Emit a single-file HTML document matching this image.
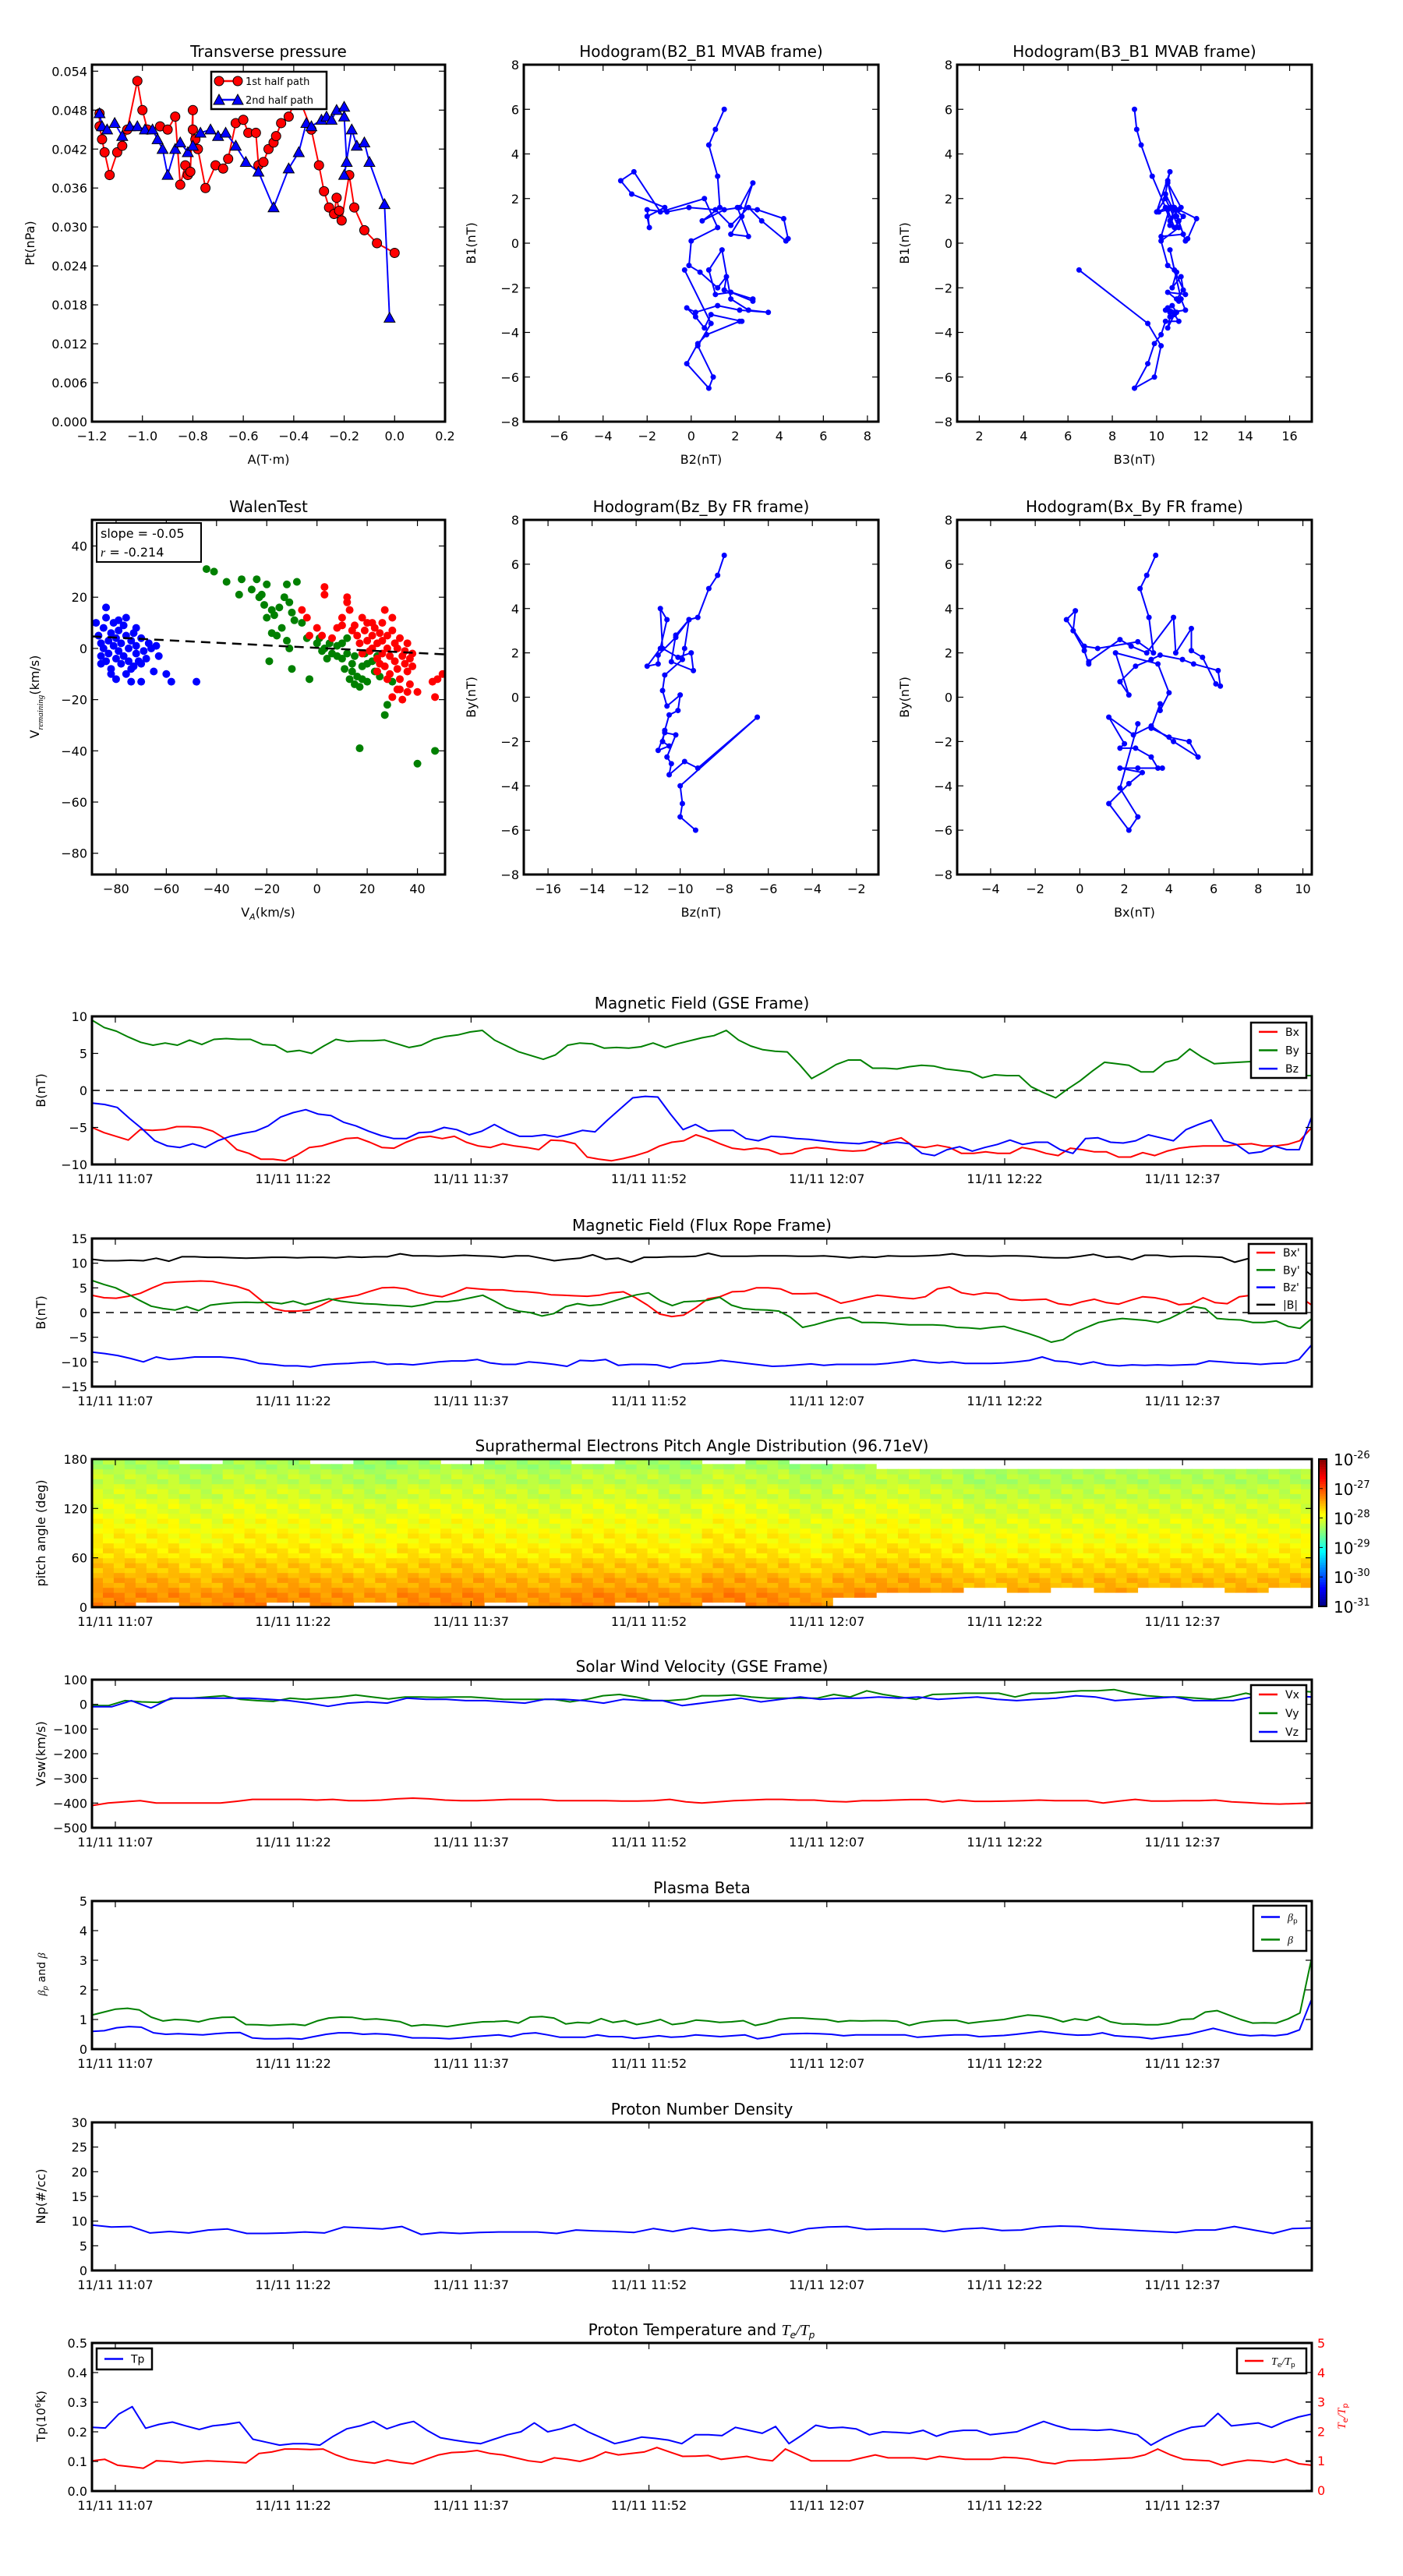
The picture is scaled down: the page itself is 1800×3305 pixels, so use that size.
<!DOCTYPE html>
<html><head><meta charset="utf-8"><title>Flux rope analysis</title>
<style>
html,body{margin:0;padding:0;background:#fff;}
svg text{font-family:"DejaVu Sans","Liberation Sans",sans-serif;}
</style></head>
<body>
<svg id="fig" xmlns="http://www.w3.org/2000/svg" width="1800" height="3300" viewBox="0 0 1800 3300">
<rect width="1800" height="3300" fill="#fff"/>
</svg>
<script>
// ---------- DATA ----------
const ptRedX=[-1.17,-1.17,-1.16,-1.15,-1.13,-1.1,-1.08,-1.06,-1.02,-1.0,-0.98,-0.93,-0.9,-0.87,-0.85,-0.83,-0.82,-0.81,-0.8,-0.8,-0.79,-0.78,-0.75,-0.71,-0.68,-0.66,-0.63,-0.6,-0.58,-0.55,-0.54,-0.52,-0.5,-0.48,-0.47,-0.45,-0.42,-0.4,-0.38,-0.33,-0.3,-0.28,-0.26,-0.24,-0.23,-0.22,-0.21,-0.18,-0.16,-0.12,-0.07,0.0];
const ptRedY=[0.0475,0.0455,0.0435,0.0415,0.038,0.0415,0.0425,0.045,0.0525,0.048,0.045,0.0455,0.045,0.047,0.0365,0.0395,0.038,0.0385,0.048,0.045,0.0435,0.042,0.036,0.0395,0.039,0.0405,0.046,0.0465,0.0445,0.0445,0.0395,0.040,0.042,0.043,0.044,0.046,0.047,0.049,0.05,0.045,0.0395,0.0355,0.033,0.032,0.0345,0.0325,0.031,0.038,0.033,0.0295,0.0275,0.026];
const ptBlueX=[-1.17,-1.16,-1.14,-1.11,-1.08,-1.05,-1.02,-0.99,-0.96,-0.94,-0.92,-0.9,-0.87,-0.85,-0.82,-0.8,-0.77,-0.73,-0.7,-0.67,-0.63,-0.59,-0.54,-0.48,-0.42,-0.38,-0.35,-0.33,-0.29,-0.27,-0.25,-0.23,-0.2,-0.2,-0.19,-0.2,-0.17,-0.15,-0.12,-0.1,-0.04,-0.02];
const ptBlueY=[0.0475,0.0455,0.045,0.046,0.044,0.0455,0.0455,0.045,0.045,0.0435,0.042,0.038,0.042,0.043,0.0415,0.0425,0.0445,0.045,0.044,0.0445,0.0425,0.040,0.0385,0.033,0.039,0.0415,0.046,0.0455,0.0465,0.047,0.0465,0.048,0.0485,0.047,0.040,0.038,0.045,0.0425,0.043,0.040,0.0335,0.016];

const h1X=[1.5,1.1,0.8,1.2,1.3,0.5,1.5,2.2,2.8,2.3,1.8,2.6,2.1,3.0,4.2,4.4,4.3,3.2,2.6,1.8,1.1,-0.1,-1.1,-2.0,-1.9,-2.0,-1.2,-2.7,-3.2,-2.6,-1.4,0.6,1.2,0.0,-0.1,0.4,1.2,1.6,1.5,2.8,2.8,1.8,1.1,0.8,1.4,1.8,2.6,3.5,2.2,1.2,0.2,-0.2,0.2,0.6,0.9,2.3,2.2,0.7,0.3,-0.2,0.8,1.0,0.3,0.9,-0.3];
const h1Y=[6.0,5.1,4.4,3.0,1.6,1.0,1.5,1.6,2.7,1.2,0.4,0.3,1.6,1.5,1.1,0.2,0.1,1.0,1.6,0.8,1.5,1.6,1.4,1.5,0.7,1.2,1.6,2.2,2.8,3.2,1.4,2.0,0.7,0.1,-1.0,-1.3,-2.0,-1.5,-2.1,-2.5,-2.6,-2.2,-2.3,-1.2,-0.3,-2.5,-3.0,-3.1,-3.0,-2.8,-3.1,-2.9,-3.3,-3.8,-3.2,-3.5,-3.5,-4.1,-4.5,-5.4,-6.5,-6.0,-4.6,-3.6,-1.2];
const h2X=[9.0,9.1,9.3,9.8,10.4,10.6,10.8,11.1,10.5,10.9,11.2,10.2,10.6,11.0,11.8,11.4,11.3,11.0,10.8,10.6,10.9,10.4,10.1,10.5,10.8,11.2,10.7,10.4,10.5,10.6,10.0,10.4,11.0,10.2,10.5,10.9,10.7,11.1,11.2,10.9,11.0,10.5,11.3,10.8,10.6,11.1,11.3,10.6,10.4,10.7,10.9,10.5,10.6,10.5,10.8,11.0,10.4,10.2,9.9,9.6,9.0,9.9,10.2,9.6,6.5];
const h3X=[-8.0,-8.3,-8.7,-9.2,-9.6,-10.2,-10.4,-9.4,-9.5,-10.1,-10.8,-10.9,-10.6,-10.9,-11.5,-11.0,-11.0,-10.2,-9.6,-9.8,-9.9,-10.7,-10.8,-10.6,-10.0,-10.1,-10.5,-10.7,-10.8,-10.5,-11.0,-10.7,-10.2,-10.6,-10.4,-10.5,-9.8,-9.2,-6.5,-10.0,-9.9,-10.0,-9.3];
const h3Y=[6.4,5.5,4.9,3.6,3.5,2.8,1.6,1.2,2.0,1.8,2.2,4.0,3.5,2.2,1.4,1.5,1.9,2.7,3.5,2.2,1.7,1.0,0.3,-0.4,0.1,-0.6,-0.8,-1.5,-2.0,-2.2,-2.4,-1.6,-1.7,-2.7,-3.0,-3.5,-2.9,-3.2,-0.9,-4.0,-4.8,-5.4,-6.0];
const h4X=[3.4,3.0,2.7,3.1,3.3,2.6,0.8,0.2,-0.6,-0.2,-0.3,0.2,0.4,0.4,1.8,2.3,3.0,4.2,4.3,5.0,5.0,5.5,6.1,6.3,6.2,5.1,4.6,3.6,3.2,2.5,1.8,2.2,1.6,3.5,4.0,3.6,3.6,3.2,4.0,4.9,5.3,4.2,3.2,2.4,1.3,2.0,1.8,2.5,3.2,3.5,3.7,2.6,1.8,2.8,2.2,1.3,2.2,2.6,1.8,2.6];
const h4Y=[6.4,5.5,4.9,3.6,2.0,2.5,2.2,2.3,3.5,3.9,3.0,2.1,1.5,1.6,2.6,2.3,2.0,3.6,2.0,3.1,2.1,1.8,0.6,0.5,1.2,1.5,1.7,1.9,1.7,1.4,0.7,0.1,2.0,1.5,0.2,-0.6,-0.3,-1.4,-1.8,-2.0,-2.7,-2.0,-1.3,-1.7,-0.9,-2.1,-2.3,-2.3,-2.7,-3.2,-3.2,-3.2,-3.2,-3.4,-3.9,-4.8,-6.0,-5.4,-4.1,-1.2];

const walenBlue=[[-88,10],[-87,5],[-86,2],[-86,-3],[-85,8],[-85,0],[-84,-5],[-84,12],[-83,3],[-83,-2],[-82,6],[-82,-8],[-81,1],[-81,10],[-80,-4],[-80,4],[-79,7],[-79,-1],[-78,-6],[-78,2],[-77,9],[-77,-3],[-76,5],[-76,-10],[-75,0],[-75,-5],[-74,3],[-74,-13],[-73,-7],[-73,6],[-72,1],[-72,-2],[-71,-5],[-70,-13],[-70,4],[-69,-1],[-68,-4],[-67,2],[-66,0],[-65,-9],[-64,1],[-63,-3],[-60,-10],[-58,-13],[-48,-13],[-84,16],[-82,-10],[-80,-12],[-76,12],[-74,-8],[-79,11],[-86,-6],[-72,8],[-70,-6]];
const walenGreen=[[-44,31],[-41,30],[-36,26],[-30,27],[-31,21],[-26,23],[-24,27],[-23,20],[-22,21],[-20,25],[-21,17],[-18,15],[-17,13],[-15,16],[-13,20],[-12,25],[-11,18],[-10,14],[-9,11],[-8,26],[-14,8],[-16,5],[-20,12],[-18,6],[-12,3],[-11,0],[-19,-5],[-10,-8],[-3,-12],[-6,10],[-4,4],[0,2],[2,-1],[3,0],[5,2],[6,-2],[8,1],[10,2],[10,-4],[11,-8],[12,-2],[13,-12],[14,-6],[14,-9],[15,-14],[16,-11],[17,-15],[18,-7],[18,-12],[19,-2],[20,-13],[20,-6],[22,-5],[23,-9],[24,-3],[25,-11],[27,-26],[28,-22],[30,-13],[17,-39],[40,-45],[47,-40],[8,-3],[12,4],[4,-4],[1,4],[15,-3]];
const walenRed=[[3,24],[3,21],[-6,15],[-4,12],[0,8],[2,5],[-3,5],[6,4],[8,8],[10,12],[10,9],[12,20],[12,18],[13,15],[15,9],[16,5],[17,2],[18,-2],[19,7],[20,3],[20,10],[21,-1],[22,5],[22,0],[23,8],[24,2],[24,-4],[25,6],[25,-6],[26,3],[26,-2],[27,15],[27,-7],[28,5],[28,0],[29,-3],[29,-10],[30,12],[30,7],[31,-5],[31,2],[32,-8],[32,0],[33,4],[33,-12],[34,-3],[35,-1],[35,-6],[36,-9],[36,2],[37,-4],[37,-14],[38,-2],[38,-7],[30,-19],[32,-16],[34,-20],[40,-17],[46,-13],[47,-19],[48,-12],[50,-10],[22,10],[26,10],[18,12],[14,7],[24,-9],[28,-12],[33,-16],[36,-17]];
const walenSlope=-0.05, walenIntercept=0.2;

const timeTickLabels=['11/11 11:07','11/11 11:22','11/11 11:37','11/11 11:52','11/11 12:07','11/11 12:22','11/11 12:37'];
const timeTickMin=[0,15,30,45,60,75,90];

const gseBx=[-5,-5.7,-6.2,-6.7,-5.3,-5.4,-5.3,-4.9,-4.9,-5.0,-5.5,-6.5,-8,-8.5,-9.3,-9.3,-9.5,-8.7,-7.7,-7.5,-7,-6.5,-6.4,-7,-7.7,-7.8,-7,-6.4,-6.2,-6.5,-6.2,-7,-7.5,-7.7,-7.2,-7.5,-7.7,-8,-6.7,-6.8,-7.2,-9,-9.3,-9.5,-9.2,-8.8,-8.3,-7.5,-7,-6.8,-6,-6.5,-7.2,-7.8,-8,-7.8,-8,-8.6,-8.5,-7.9,-7.7,-7.9,-8.1,-8.2,-8.1,-7.5,-6.8,-6.4,-7.5,-7.7,-7.4,-7.7,-8.5,-8.5,-8.3,-8.5,-8.5,-7.7,-8,-8.5,-8.8,-7.8,-8,-8.3,-8.3,-9,-9,-8.4,-8.8,-8.2,-7.8,-7.6,-7.5,-7.5,-7.5,-7.3,-7.2,-7.5,-7.5,-7.3,-6.8,-5];
const gseBy=[9.5,8.5,8,7.2,6.5,6.1,6.4,6.1,6.8,6.2,6.9,7,6.9,6.9,6.2,6.1,5.2,5.4,5,6,6.9,6.6,6.7,6.7,6.8,6.3,5.8,6.1,6.9,7.3,7.5,7.9,8.1,6.8,6,5.2,4.7,4.2,4.8,6.1,6.4,6.3,5.7,5.8,5.7,5.9,6.4,5.8,6.3,6.7,7.1,7.4,8.1,6.8,6,5.5,5.3,5.2,3.5,1.6,2.5,3.5,4.1,4.1,3,3,2.9,3.2,3.4,3.3,2.9,2.7,2.5,1.7,2.1,2,2,0.5,-0.3,-1,0.2,1.3,2.6,3.8,3.6,3.4,2.5,2.5,3.8,4.2,5.6,4.5,3.6,3.7,3.8,3.9,3.5,3,2.5,2,2];
const gseBz=[-1.7,-1.9,-2.3,-3.8,-5.2,-6.8,-7.5,-7.7,-7.2,-7.7,-6.8,-6.2,-5.8,-5.5,-4.8,-3.6,-3,-2.6,-3.2,-3.4,-4.3,-4.8,-5.5,-6.1,-6.5,-6.5,-5.7,-5.6,-5,-5.3,-6,-5.5,-4.6,-5.5,-6.2,-6.2,-6,-6.3,-5.9,-5.4,-5.6,-4,-2.5,-1,-0.8,-0.9,-3.2,-5.3,-4.6,-5.5,-5.4,-5.4,-6.5,-6.8,-6.2,-6.3,-6.5,-6.6,-6.8,-7,-7.1,-7.2,-6.9,-7.2,-7,-7.2,-8.5,-8.8,-8,-7.6,-8.2,-7.7,-7.3,-6.7,-7.3,-7,-7,-8,-8.5,-6.5,-6.4,-7,-7.1,-6.8,-6,-6.4,-6.8,-5.3,-4.6,-4,-6.8,-7.3,-8.5,-8.3,-7.5,-8,-8,-3.5];

const frBx=[3.5,3,2.9,3.3,3.9,5,6,6.2,6.3,6.4,6.3,5.8,5.3,4.5,2.5,0.8,0.3,0.3,0.5,1.5,2.7,3.1,3.5,4.3,5,5.1,4.8,4,3.5,3.2,4,5,4.8,4.6,4.6,4.3,4.2,4,3.6,3.5,3.4,3.3,3.5,4,4.2,3,1.5,-0.3,-0.8,-0.5,1,2.8,3.2,4.2,4.3,5,5,4.8,3.8,3.8,3.9,3,1.9,2.4,3,3.5,3.3,3,2.8,3.2,4.8,5.2,4,3.6,4,3.8,2.7,2.5,2.6,2.7,1.8,1.5,2.2,2.7,2,1.7,2.5,3.2,3,2.5,1.6,1.8,3,2,1.8,3.2,3.5,3.8,3.6,3.9,3.2,1.5];
const frBy=[6.5,5.7,5,3.8,2.5,1.3,0.8,0.5,1.2,0.4,1.5,1.8,2,2.1,2,2.1,1.8,2.3,1.6,2.2,2.8,2.3,2,1.8,1.7,1.5,1.4,1.2,1.6,2.2,2.2,2.5,3,3.5,2.3,1,0.3,0,-0.7,-0.2,1.2,1.8,1.4,1.6,2.3,3,3.6,4,2.4,1.4,2.2,2.3,2.5,3.1,1.5,0.8,0.6,0.5,0.3,-1,-3,-2.5,-1.8,-1.2,-1,-2,-2,-2.1,-2.3,-2.5,-2.5,-2.5,-2.6,-3,-3.1,-3.3,-3,-2.8,-3.5,-4.2,-5,-6,-5.5,-4,-3,-2,-1.5,-1.2,-1.4,-1.6,-2,-1.2,0,1.2,0.8,-1.2,-1.4,-1.5,-2,-2,-1.7,-2.8,-3.2,-1.2];
const frBz=[-8,-8.3,-8.7,-9.3,-10,-9,-9.5,-9.3,-9,-9,-9,-9.2,-9.6,-10.3,-10.5,-10.8,-10.8,-11,-10.6,-10.4,-10.3,-10.1,-10,-10.5,-10.4,-10.6,-10.3,-10,-9.8,-9.8,-9.5,-10.2,-10.5,-10.5,-10,-10.2,-10.5,-10.9,-9.7,-9.8,-9.5,-10.7,-10.5,-10.5,-10.6,-11.2,-10.4,-10.3,-10.1,-9.7,-10,-10.3,-10.6,-10.9,-10.8,-10.6,-10.4,-10.7,-10.5,-10.5,-10.5,-10.5,-10.3,-10,-9.6,-10,-10.2,-10,-10.3,-10.3,-10.3,-10.2,-10,-9.7,-9,-9.8,-10,-10.5,-10,-10.6,-10.8,-10.6,-10.7,-10.6,-10.7,-10.6,-10.5,-9.8,-10,-10.2,-10.3,-10.5,-10.3,-10.2,-9.5,-6.5];
const frBt=[10.8,10.5,10.5,10.6,10.5,11,10.4,11.3,11.3,11.2,11.2,11.1,11,11.1,11.2,11.2,11.1,11.2,11.2,11.1,11.3,11.2,11.3,11.3,11.9,11.5,11.5,11.4,11.5,11.6,11.5,11.4,11.2,11.5,11.5,11,10.5,10.8,11,11.7,10.8,11,10.2,11.2,11.2,11.3,11.3,11.4,12,11.4,11.4,11.4,11.5,11.5,11.5,11.4,11.4,11.5,11.3,11.1,11.3,11.2,11.5,11.4,11.4,11.5,11.6,11.9,11.5,11.5,11.4,11.5,11.5,11.4,11.2,11.1,11.1,11.4,11.8,11.2,11.3,10.7,11.6,11.6,11.3,11.4,11.4,11.3,11.2,10.2,10.9,11.2,11.5,12,9.5,7.5];

// PAD data: log10 flux profile (pitch-angle bins of 6 deg, bottom->top), per-group modulation, coverage
const padProfile=[-27.3,-27.3,-27.35,-27.4,-27.45,-27.5,-27.55,-27.6,-27.65,-27.7,-27.75,-27.8,-27.82,-27.85,-27.88,-27.9,-27.92,-27.95,-28.0,-28.0,-28.03,-28.05,-28.1,-28.12,-28.15,-28.2,-28.22,-28.25,-28.3,-28.35];
const padGroupMod=[0.05,0.03,-0.03,0.05,0.03,0,-0.05,0.03,0.05,0,-0.03,0.05,0.03,-0.03,0.08,0.03,-0.05,0.03,0.05,0,-0.08,-0.05,-0.05,-0.03,-0.05,-0.03,-0.05,-0.03];
const padTexture=[0.08,-0.1,0.04,-0.05,0.12,-0.07,0,0.06,-0.12];
const padLowRow=[0,1,0,0,1,0,1,0,0,1,0,0,1,0,1,0,0,2,3,3,4,3,4,3,4,4,3,4];
const padHighRow=[29,29,28,29,29,28,29,29,28,29,29,28,29,29,28,29,28,28,27,27,27,27,27,27,27,27,27,27];

const vswVx=[-410,-400,-395,-390,-400,-400,-400,-400,-400,-393,-385,-385,-385,-385,-388,-385,-390,-390,-388,-383,-380,-383,-388,-390,-390,-388,-385,-385,-385,-390,-390,-390,-390,-392,-392,-390,-385,-395,-400,-395,-390,-388,-385,-385,-388,-388,-393,-395,-390,-390,-388,-386,-386,-395,-388,-393,-393,-392,-390,-388,-390,-390,-390,-400,-392,-385,-392,-392,-390,-390,-388,-395,-398,-402,-404,-402,-400];
const vswVy=[-5,-5,15,10,8,25,25,30,35,20,15,12,25,20,25,30,38,30,22,30,30,28,30,30,25,20,20,20,20,10,20,35,40,30,15,15,20,35,35,38,30,25,25,25,25,40,30,55,40,30,20,40,42,45,45,45,30,45,45,50,55,55,60,45,35,30,30,25,20,30,45,30,35,55,50];
const vswVz=[-10,-10,15,-15,25,25,25,25,25,20,15,5,-8,5,10,5,25,20,20,15,15,10,5,20,20,15,5,20,15,15,-5,5,15,25,10,20,30,20,25,25,30,25,30,20,25,30,20,15,20,25,35,30,15,20,25,30,15,15,15,30,35,35,30];

const betaP=[0.6,0.62,0.72,0.76,0.74,0.55,0.5,0.52,0.5,0.48,0.52,0.55,0.56,0.38,0.35,0.35,0.36,0.34,0.42,0.5,0.55,0.55,0.5,0.52,0.5,0.45,0.38,0.38,0.37,0.35,0.38,0.42,0.45,0.48,0.42,0.52,0.55,0.48,0.4,0.4,0.4,0.48,0.42,0.42,0.36,0.4,0.45,0.4,0.42,0.48,0.45,0.42,0.45,0.48,0.35,0.4,0.5,0.52,0.53,0.52,0.5,0.45,0.48,0.48,0.48,0.48,0.48,0.4,0.43,0.46,0.48,0.48,0.42,0.44,0.46,0.5,0.55,0.6,0.55,0.5,0.47,0.48,0.55,0.45,0.42,0.4,0.35,0.4,0.45,0.5,0.6,0.7,0.6,0.5,0.45,0.47,0.45,0.5,0.65,1.7];
const betaT=[1.15,1.25,1.35,1.38,1.32,1.08,0.95,1,0.98,0.92,1.02,1.07,1.08,0.83,0.82,0.8,0.82,0.84,0.8,0.95,1.05,1.08,1.07,1,1.02,0.98,0.93,0.78,0.82,0.8,0.76,0.82,0.88,0.92,0.93,0.95,0.88,1.08,1.1,1.05,0.85,0.9,0.88,1.03,0.9,0.96,0.83,0.9,1,0.83,0.88,0.98,0.95,0.9,0.92,0.96,0.8,0.88,1,1.05,1.05,1.02,1,0.92,0.96,0.95,0.96,0.96,0.94,0.8,0.9,0.95,0.97,0.97,0.87,0.92,0.96,1,1.08,1.15,1.12,1.05,0.92,1.02,0.97,1.1,0.92,0.85,0.85,0.82,0.82,0.88,1,1.02,1.25,1.3,1.15,1,0.88,0.89,0.88,1.02,1.22,3.1];

const npVals=[9.2,8.8,8.9,7.6,7.9,7.6,8.2,8.4,7.5,7.5,7.6,7.8,7.6,8.8,8.6,8.4,8.9,7.3,7.7,7.5,7.7,7.8,7.8,7.8,7.5,8.2,8.0,7.9,7.7,8.5,7.9,8.6,8,8.3,7.9,8.3,7.6,8.5,8.8,8.9,8.3,8.4,8.4,8.4,7.9,8.4,8.6,8.1,8.2,8.8,9,8.9,8.5,8.3,8.1,7.9,7.7,8.2,8.2,8.9,8.2,7.5,8.5,8.6];

const tpVals=[0.215,0.213,0.26,0.285,0.212,0.225,0.233,0.22,0.208,0.22,0.225,0.232,0.175,0.165,0.155,0.16,0.16,0.155,0.185,0.21,0.22,0.235,0.21,0.225,0.235,0.205,0.18,0.172,0.165,0.16,0.175,0.19,0.2,0.23,0.2,0.21,0.225,0.2,0.18,0.16,0.17,0.182,0.178,0.172,0.16,0.19,0.19,0.187,0.215,0.205,0.195,0.218,0.16,0.19,0.222,0.213,0.215,0.21,0.19,0.2,0.198,0.195,0.205,0.185,0.2,0.205,0.205,0.19,0.195,0.2,0.218,0.235,0.22,0.208,0.207,0.205,0.208,0.2,0.19,0.155,0.18,0.2,0.215,0.22,0.262,0.22,0.225,0.23,0.215,0.235,0.25,0.26];
const teTpVals=[1,1.05,0.85,0.8,0.75,1.0,0.98,0.93,0.97,1.0,0.98,0.96,0.93,1.25,1.3,1.4,1.4,1.38,1.4,1.2,1.05,0.97,0.92,1.03,0.95,0.9,1.05,1.2,1.28,1.3,1.35,1.25,1.2,1.1,1.0,0.95,1.1,1.05,0.98,1.1,1.3,1.2,1.25,1.3,1.45,1.3,1.15,1.16,1.18,1.05,1.1,1.15,1.05,1.0,1.4,1.2,1,1,1.0,1.0,1.1,1.2,1.1,1.1,1.1,1.05,1.15,1.1,1.05,1.05,1.05,1.12,1.1,1.05,0.95,0.9,1.0,1.02,1.03,1.05,1.08,1.1,1.2,1.4,1.2,1.05,1.02,1.0,0.85,0.95,1.02,1.0,0.95,1.05,0.9,0.85];

// ---------- DRAWING ----------
const NS='http://www.w3.org/2000/svg';
const svg=document.getElementById('fig');
let clipId=0;
function mk(tag,parent,attrs){const e=document.createElementNS(NS,tag);for(const k in attrs)e.setAttribute(k,attrs[k]);(parent||svg).appendChild(e);return e;}
function txt(parent,x,y,s,size,anchor,fill){const t=mk('text',parent,{x:x,y:y,'font-size':size,'text-anchor':anchor||'middle',fill:fill||'#000'});t.textContent=s;return t;}

function axes(c){
  const g=mk('g',svg,{});
  
  
  const sx=v=>c.x0+(v-c.xmin)/(c.xmax-c.xmin)*c.w;
  const sy=v=>c.y0+c.h-(v-c.ymin)/(c.ymax-c.ymin)*c.h;
  const id='clip'+(clipId++);
  const cp=mk('clipPath',g,{id:id});mk('rect',cp,{x:c.x0,y:c.y0,width:c.w,height:c.h});
  const plot=mk('g',g,{'clip-path':'url(#'+id+')'});
  
  
  const tg=mk('g',g,{stroke:'#000','stroke-width':1.2});
  c.xticks.forEach((v,i)=>{const x=sx(v);mk('line',tg,{x1:x,y1:c.y0+c.h,x2:x,y2:c.y0+c.h-8});mk('line',tg,{x1:x,y1:c.y0,x2:x,y2:c.y0+8});
    const lt=txt(g,x,c.y0+c.h+24,c.xlabels?c.xlabels[i]:fmtNum(v),16);
    
    });
  c.yticks.forEach((v,i)=>{const y=sy(v);mk('line',tg,{x1:c.x0,y1:y,x2:c.x0+8,y2:y});if(!c.noRightTicks)mk('line',tg,{x1:c.x0+c.w,y1:y,x2:c.x0+c.w-8,y2:y});
    const lt=txt(g,c.x0-6,y+6,c.ylabels?c.ylabels[i]:fmtNum(v),16,'end');
    
    });
  if(c.title){const t=txt(g,c.x0+c.w/2,c.y0-10,c.title,20);
    
    }
  if(c.xtitle){const t=txt(g,c.x0+c.w/2,c.y0+c.h+54,c.xtitle,16);
    
    }
  if(c.ytitle){const t=txt(g,0,0,c.ytitle,16);t.setAttribute('transform','translate('+c.ylx+','+(c.y0+c.h/2)+') rotate(-90)');
    
    }
  c.frame=()=>{const f=mk('rect',g,{x:c.x0,y:c.y0,width:c.w,height:c.h,fill:'none',stroke:'#000','stroke-width':3});
    
    };
  return {g,plot,sx,sy,c};
}
function fmtNum(v){return (v<0?'\u2212':'')+Math.abs(v).toString();}
function polyline(ax,xs,ys,color,name,width,dash){
  const pts=xs.map((x,i)=>ax.sx(x).toFixed(1)+','+ax.sy(ys[i]).toFixed(1)).join(' ');
  const p=mk('polyline',ax.plot,{points:pts,fill:'none',stroke:color,'stroke-width':width||2,'stroke-linejoin':'round'});
  if(dash)p.setAttribute('stroke-dasharray',dash);
  
  
  return p;
}
function dots(ax,xs,ys,color,name,r,edge){
  const g=mk('g',ax.plot,{});
  
  
  xs.forEach((x,i)=>{mk('circle',g,{cx:ax.sx(x),cy:ax.sy(ys[i]),r:r,fill:color,stroke:edge||'none','stroke-width':1});});
  return g;
}
function tris(ax,xs,ys,color,name,s){
  const g=mk('g',ax.plot,{});
  
  
  xs.forEach((x,i)=>{const cx=ax.sx(x),cy=ax.sy(ys[i]);mk('polygon',g,{points:(cx)+','+(cy-s)+' '+(cx-s)+','+(cy+s*0.8)+' '+(cx+s)+','+(cy+s*0.8),fill:color,stroke:'#000','stroke-width':1});});
}
function legendBox(x,y,w,h,entries,name,labelSize){
  const g=mk('g',svg,{});
  
  
  mk('rect',g,{x:x,y:y,width:w,height:h,fill:'#fff',stroke:'#000','stroke-width':2.5});
  const step=h/entries.length;
  entries.forEach((e,i)=>{const cy=y+step*(i+0.5);
    const eg=mk('g',g,{});
    
    
    mk('line',eg,{x1:x+10,y1:cy,x2:x+34,y2:cy,stroke:e.color,'stroke-width':2.5});
    if(e.marker==='o'){mk('circle',eg,{cx:x+10,cy:cy,r:6,fill:e.color,stroke:'#000'});mk('circle',eg,{cx:x+34,cy:cy,r:6,fill:e.color,stroke:'#000'});}
    if(e.marker==='^'){[x+10,x+34].forEach(cx=>mk('polygon',eg,{points:cx+','+(cy-7)+' '+(cx-7)+','+(cy+6)+' '+(cx+7)+','+(cy+6),fill:e.color,stroke:'#000'}));}
    const t=txt(eg,x+44,cy+5,'',labelSize||15,'start');
    if(e.html){t.innerHTML=e.html;}else t.textContent=e.label;
  });
}
function rng(a,b,s){const r=[];for(let v=a;v<=b+1e-9;v+=s)r.push(+v.toFixed(6));return r;}
function timesFor(n){const r=[];for(let i=0;i<n;i++)r.push(TMIN+i*(TMAX-TMIN)/(n-1));return r;}
const TMIN=-1.97,TMAX=100.9;

// ----- Transverse pressure -----
(function(){
  const ptTicks=rng(0,0.054,0.006);
  const a=axes({name:'transverse-pressure-chart',x0:118,y0:83,w:453,h:458,xmin:-1.2,xmax:0.2,ymin:0,ymax:0.055,
    xticks:rng(-1.2,0.2,0.2),xlabels:['\u22121.2','\u22121.0','\u22120.8','\u22120.6','\u22120.4','\u22120.2','0.0','0.2'],
    yticks:ptTicks,ylabels:ptTicks.map(v=>v.toFixed(3)),title:'Transverse pressure',xtitle:'A(T\u00b7m)',ytitle:'Pt(nPa)',ylx:44});
  polyline(a,ptRedX,ptRedY,'#f00','first-half-line');
  polyline(a,ptBlueX,ptBlueY,'#00f','second-half-line');
  dots(a,ptRedX,ptRedY,'#f00','first-half-markers',6,'#000');
  tris(a,ptBlueX,ptBlueY,'#00f','second-half-markers',7);
  a.c.frame();
  legendBox(271,92,148,48,[{label:'1st half path',color:'#f00',marker:'o'},{label:'2nd half path',color:'#00f',marker:'^'}],'pressure-legend',13);
})();

// ----- Hodograms -----
function hodo(name,x0,y0,xmin,xmax,xt,xs,ys,title,xtitle,ytitle){
  const a=axes({name:name,x0:x0,y0:y0,w:455,h:y0<300?458:455,xmin:xmin,xmax:xmax,ymin:-8,ymax:8,
    xticks:xt,yticks:rng(-8,8,2),title:title,xtitle:xtitle,ytitle:ytitle,ylx:x0-62});
  polyline(a,xs,ys,'#00f',name+'-line',2);
  dots(a,xs,ys,'#00f',name+'-points',3.5);
  a.c.frame();
}
hodo('hodogram-b2-b1',672,83,-7.6,8.5,rng(-6,8,2),h1X,h1Y,'Hodogram(B2_B1 MVAB frame)','B2(nT)','B1(nT)');
hodo('hodogram-b3-b1',1228,83,1.0,17.0,rng(2,16,2),h2X,h1Y,'Hodogram(B3_B1 MVAB frame)','B3(nT)','B1(nT)');
hodo('hodogram-bz-by',672,667,-17.1,-1.0,rng(-16,-2,2),h3X,h3Y,'Hodogram(Bz_By FR frame)','Bz(nT)','By(nT)');
hodo('hodogram-bx-by',1228,667,-5.5,10.4,rng(-4,10,2),h4X,h4Y,'Hodogram(Bx_By FR frame)','Bx(nT)','By(nT)');

// ----- Walen test -----
(function(){
  const a=axes({name:'walen-test-chart',x0:118,y0:667,w:453,h:455,xmin:-89.6,xmax:51,ymin:-88.3,ymax:50.2,
    xticks:rng(-80,40,20),yticks:rng(-80,40,20),title:'WalenTest',ytitle:'',ylx:44});
  dots(a,walenBlue.map(p=>p[0]),walenBlue.map(p=>p[1]),'#00f','walen-blue-points',5);
  dots(a,walenGreen.map(p=>p[0]),walenGreen.map(p=>p[1]),'#008000','walen-green-points',5);
  dots(a,walenRed.map(p=>p[0]),walenRed.map(p=>p[1]),'#f00','walen-red-points',5);
  polyline(a,[-89.6,51],[-89.6*walenSlope+walenIntercept,51*walenSlope+walenIntercept],'#000','walen-fit-line',2.5,'12,8');
  a.c.frame();
  const xt=txt(a.g,344,1176,'',16);xt.innerHTML='V<tspan font-size="11" dy="4" font-style="italic">A</tspan><tspan dy="-4">(km/s)</tspan>';
  
  
  const yt=txt(a.g,0,0,'',16);yt.setAttribute('transform','translate(50,894) rotate(-90)');
  yt.innerHTML='V<tspan font-size="11" dy="5" font-style="italic" font-family="Liberation Serif,serif">remaining</tspan><tspan dy="-5">(km/s)</tspan>';
  
  
  const lg=mk('g',svg,{});
  
  
  mk('rect',lg,{x:124,y:671,width:134,height:50,fill:'#fff',stroke:'#000','stroke-width':2});
  txt(lg,129,690,'slope = -0.05',16,'start');
  const r=txt(lg,129,714,'',16,'start');r.innerHTML='<tspan font-style="italic" font-family="Liberation Serif,serif">r</tspan> = -0.214';
})();

// ----- Time-series helper -----
function tsAxes(name,y0,ymin,ymax,yticks,ylabels,title,ytitle){
  return axes({name:name,x0:118,y0:y0,w:1565,h:190,xmin:TMIN,xmax:TMAX,ymin:ymin,ymax:ymax,
    xticks:timeTickMin,xlabels:timeTickLabels,yticks:yticks,ylabels:ylabels,title:title,ytitle:ytitle,ylx:58});
}
function zeroLine(a){polyline(a,[TMIN,TMAX],[0,0],'#000','zero-reference-line',1.5,'10,8');}

// GSE
(function(){
  const a=tsAxes('magnetic-field-gse-chart',1304,-10,10,rng(-10,10,5),null,'Magnetic Field (GSE Frame)','B(nT)');
  zeroLine(a);
  polyline(a,timesFor(gseBx.length),gseBx,'#f00','bx-line');
  polyline(a,timesFor(gseBy.length),gseBy,'#008000','by-line');
  polyline(a,timesFor(gseBz.length),gseBz,'#00f','bz-line');
  a.c.frame();
  legendBox(1605,1312,71,71,[{label:'Bx',color:'#f00'},{label:'By',color:'#008000'},{label:'Bz',color:'#00f'}],'gse-legend',14);
})();
// FR
(function(){
  const a=tsAxes('magnetic-field-fr-chart',1589,-15,15,rng(-15,15,5),null,'Magnetic Field (Flux Rope Frame)','B(nT)');
  zeroLine(a);
  polyline(a,timesFor(frBx.length),frBx,'#f00','bx-prime-line');
  polyline(a,timesFor(frBy.length),frBy,'#008000','by-prime-line');
  polyline(a,timesFor(frBz.length),frBz,'#00f','bz-prime-line');
  polyline(a,timesFor(frBt.length),frBt,'#000','b-magnitude-line');
  a.c.frame();
  legendBox(1602,1596,74,89,[{label:"Bx'",color:'#f00'},{label:"By'",color:'#008000'},{label:"Bz'",color:'#00f'},{label:'|B|',color:'#000'}],'fr-legend',14);
})();
// PAD
function jet(f){f=Math.max(0,Math.min(1,f));const c=v=>Math.round(255*Math.max(0,Math.min(1,1.5-Math.abs(v))));return 'rgb('+c(4*f-3)+','+c(4*f-2)+','+c(4*f-1)+')';}
(function(){
  const a=tsAxes('pitch-angle-distribution-chart',1872,0,180,[0,60,120,180],null,'Suprathermal Electrons Pitch Angle Distribution (96.71eV)','pitch angle (deg)');
  const nCols=padGroupMod.length*4, nRows=padProfile.length;
  const dt=(TMAX-TMIN)/nCols, da=180/nRows;
  const hg=mk('g',a.plot,{});
  
  
  for(let i=0;i<nCols;i++){const gI=Math.floor(i/4);
    for(let j=padLowRow[gI];j<=padHighRow[gI];j++){
      const v=padProfile[j]+padGroupMod[gI]+padTexture[(i*3+j*5)%padTexture.length];
      const x0=a.sx(TMIN+i*dt),x1=a.sx(TMIN+(i+1)*dt),y0=a.sy((j+1)*da),y1=a.sy(j*da);
      mk('rect',hg,{x:x0.toFixed(1),y:y0.toFixed(1),width:(x1-x0+0.6).toFixed(1),height:(y1-y0+0.6).toFixed(1),fill:jet((v+31)/5)});
    }}
  a.c.frame();
  const cb=mk('g',svg,{});
  
  
  for(let k=0;k<60;k++){mk('rect',cb,{x:1692,y:2061-(k+1)*189/60,width:10,height:189/60+0.5,fill:jet((k+0.5)/60)});}
  mk('rect',cb,{x:1692,y:1872,width:10,height:189,fill:'none',stroke:'#000','stroke-width':2});
  for(let k=0;k<=5;k++){const y=2061-k*189/5;mk('line',cb,{x1:1692,y1:y,x2:1697,y2:y,stroke:'#000'});
    const t=txt(cb,1711,y+8,'',20,'start');t.innerHTML='10<tspan font-size="13" dy="-9">-'+(31-k)+'</tspan>';
    
    }
})();
// Vsw
(function(){
  const a=tsAxes('solar-wind-velocity-chart',2155,-500,100,rng(-500,100,100),null,'Solar Wind Velocity (GSE Frame)','Vsw(km/s)');
  polyline(a,timesFor(vswVx.length),vswVx,'#f00','vx-line');
  polyline(a,timesFor(vswVy.length),vswVy,'#008000','vy-line');
  polyline(a,timesFor(vswVz.length),vswVz,'#00f','vz-line');
  a.c.frame();
  legendBox(1605,2162,71,72,[{label:'Vx',color:'#f00'},{label:'Vy',color:'#008000'},{label:'Vz',color:'#00f'}],'velocity-legend',14);
})();
// Beta
(function(){
  const a=tsAxes('plasma-beta-chart',2439,0,5,rng(0,5,1),null,'Plasma Beta','');
  polyline(a,timesFor(betaP.length),betaP,'#00f','beta-p-line');
  polyline(a,timesFor(betaT.length),betaT,'#008000','beta-line');
  a.c.frame();
  const yt=txt(a.g,0,0,'',14);yt.setAttribute('transform','translate(58,2533) rotate(-90)');
  yt.innerHTML='<tspan font-style="italic" font-family="Liberation Serif,serif">\u03b2</tspan><tspan font-size="9" dy="3" font-style="italic">p</tspan><tspan dy="-3"> and </tspan><tspan font-style="italic" font-family="Liberation Serif,serif">\u03b2</tspan>';
  
  
  legendBox(1608,2445,68,58,[{html:'<tspan font-style="italic" font-family="Liberation Serif,serif">\u03b2</tspan><tspan font-size="9" dy="3">p</tspan>',color:'#00f'},{html:'<tspan font-style="italic" font-family="Liberation Serif,serif">\u03b2</tspan>',color:'#008000'}],'beta-legend',14);
})();
// Np
(function(){
  const a=tsAxes('proton-density-chart',2723,0,30,rng(0,30,5),null,'Proton Number Density','Np(#/cc)');
  polyline(a,timesFor(npVals.length),npVals,'#00f','np-line');
  a.c.frame();
})();
// Tp
(function(){
  const tk=rng(0,0.5,0.1);
  const a=tsAxes('proton-temperature-chart',3006,0,0.5,tk,tk.map(v=>v.toFixed(1)),'','');
  polyline(a,timesFor(tpVals.length),tpVals,'#00f','tp-line');
  const sy2=v=>3195-v/5*189;
  const teTimes=timesFor(teTpVals.length);
  const p=mk('polyline',a.plot,{points:teTimes.map((t,i)=>a.sx(t).toFixed(1)+','+sy2(teTpVals[i]).toFixed(1)).join(' '),fill:'none',stroke:'#f00','stroke-width':2});
  
  
  a.c.frame();
  const rg=mk('g',svg,{});
  
  
  for(let k=0;k<=5;k++){const y=sy2(k);mk('line',rg,{x1:1683,y1:y,x2:1675,y2:y,stroke:'#000','stroke-width':1.2});txt(rg,1690,y+6,String(k),16,'start','#f00');}
  const tt=txt(svg,900,2996,'',20);tt.innerHTML='Proton Temperature and <tspan font-style="italic" font-family="Liberation Serif,serif">T</tspan><tspan font-size="12" dy="4" font-style="italic">e</tspan><tspan dy="-4" font-family="Liberation Serif,serif" font-style="italic">/T</tspan><tspan font-size="12" dy="4" font-style="italic">p</tspan>';
  
  
  const yl=txt(svg,0,0,'',15);yl.setAttribute('transform','translate(58,3100) rotate(-90)');yl.innerHTML='Tp(10<tspan font-size="10" dy="-6">6</tspan><tspan dy="6">K)</tspan>';
  
  
  const yr=txt(svg,0,0,'',15,'middle','#f00');yr.setAttribute('transform','translate(1726,3100) rotate(-90)');yr.innerHTML='<tspan font-style="italic" font-family="Liberation Serif,serif">T</tspan><tspan font-size="10" dy="3">e</tspan><tspan dy="-3" font-style="italic" font-family="Liberation Serif,serif">/T</tspan><tspan font-size="10" dy="3">p</tspan>';
  
  
  legendBox(124,3013,71,27,[{label:'Tp',color:'#00f'}],'tp-legend',14);
  legendBox(1587,3013,89,32,[{html:'<tspan font-style="italic" font-family="Liberation Serif,serif">T</tspan><tspan font-size="9" dy="3">e</tspan><tspan dy="-3" font-style="italic" font-family="Liberation Serif,serif">/T</tspan><tspan font-size="9" dy="3">p</tspan>',color:'#f00'}],'te-tp-legend',14);
})();
</script>
</body></html>
